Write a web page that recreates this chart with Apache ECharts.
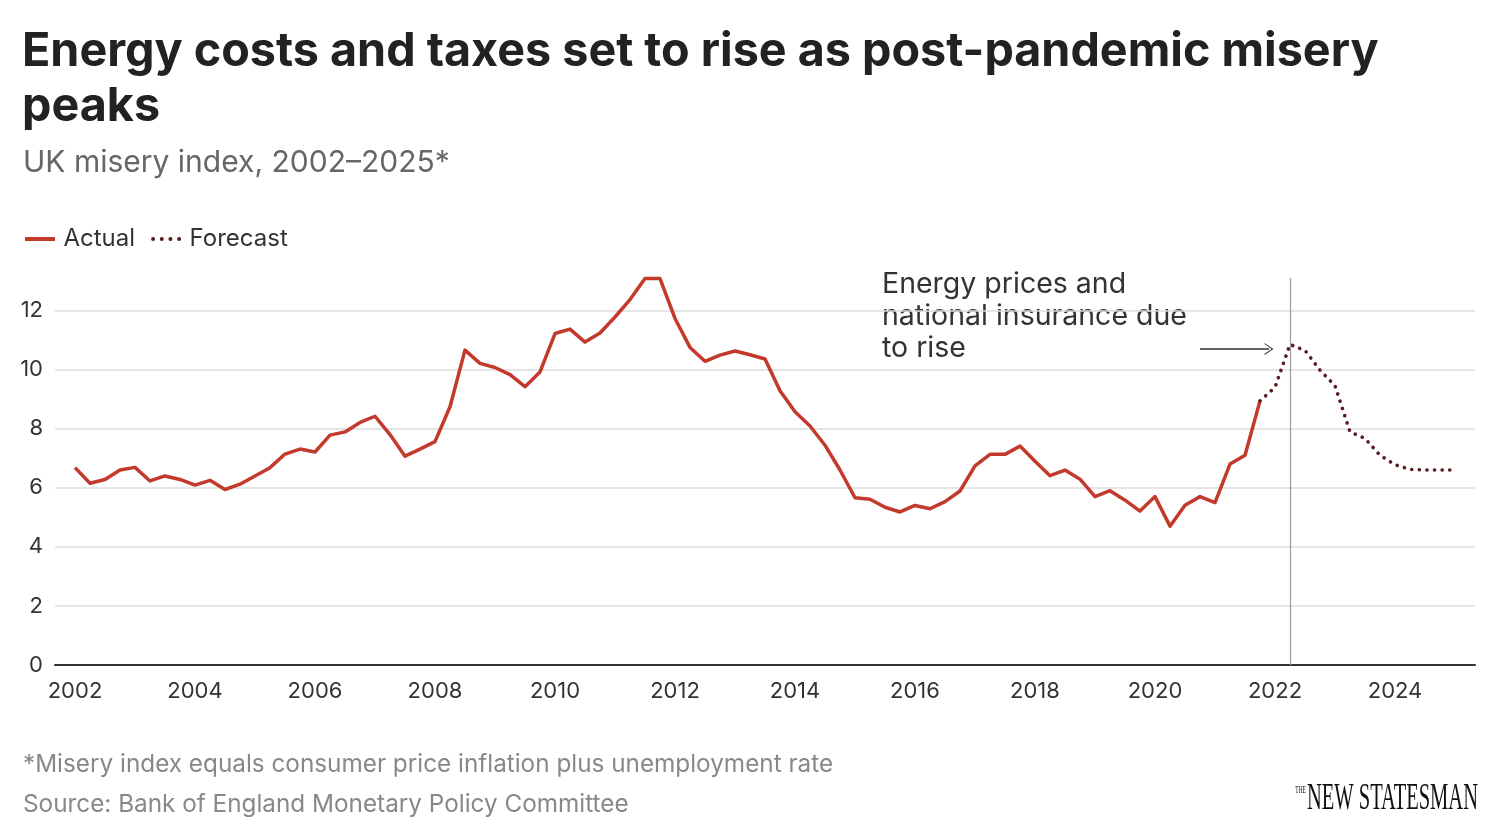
<!DOCTYPE html>
<html>
<head>
<meta charset="utf-8">
<script src="https://cdn.jsdelivr.net/npm/echarts@6/dist/echarts.min.js"></script>
<style>
  html, body { margin: 0; padding: 0; background: #fff; }
  #chart { width: 1500px; height: 836px; }
</style>
</head>
<body>
<div id="chart"></div>
<script>
// ---- Data (quarterly, starting 2002 Q1) ----
const startYear = 2002;
const actual = [
  6.68, 6.15, 6.28, 6.60, 6.69, 6.23, 6.40, 6.28,
  6.09, 6.25, 5.94, 6.12, 6.40, 6.68, 7.14, 7.31,
  7.21, 7.78, 7.89, 8.21, 8.42, 7.80, 7.07, 7.31,
  7.56, 8.74, 10.66, 10.21, 10.07, 9.83, 9.42, 9.92,
  11.22, 11.37, 10.93, 11.24, 11.78, 12.37, 13.08, 13.08,
  11.73, 10.75, 10.28, 10.49, 10.63, 10.50, 10.36, 9.28,
  8.57, 8.09, 7.44, 6.60, 5.66, 5.61, 5.34, 5.18,
  5.40, 5.29, 5.53, 5.89, 6.74, 7.13, 7.13, 7.41,
  6.90, 6.41, 6.60, 6.29, 5.70, 5.90, 5.58, 5.21,
  5.70, 4.70, 5.41, 5.70, 5.50, 6.80, 7.10, 8.94
];
// forecast starts at the last actual quarter (2021 Q4)
const forecastStartIndex = 79;
const forecast = [8.94, 9.40, 10.85, 10.65, 9.98, 9.45, 7.89, 7.67, 7.10, 6.78, 6.62, 6.60, 6.60, 6.60];
const yearTicks = [2002, 2004, 2006, 2008, 2010, 2012, 2014, 2016, 2018, 2020, 2022, 2024];
const yTicks = [0, 2, 4, 6, 8, 10, 12];
const annotationLine = 2022.25;
const annotationText = 'Energy prices and\nnational insurance due\nto rise';
const arrowFrom = [2020.75, 10.7];
const arrowTo = [2021.9, 10.7];

const RED = '#c33a2c';
const MAROON = '#5a1a1e';
const FONT = 'Inter, Lato, "Noto Sans", sans-serif';

const actualData = actual.map((v, i) => [startYear + i / 4, v]);
const forecastData = forecast.map((v, j) => [startYear + (forecastStartIndex + j) / 4, v]);

const ICON_SOLID = 'path://M0,0 L30,0 L30,4 L0,4 Z';
const ICON_DOTS = 'path://M0,2 a2,2 0 1,0 4,0 a2,2 0 1,0 -4,0 Z M8.67,2 a2,2 0 1,0 4,0 a2,2 0 1,0 -4,0 Z M17.33,2 a2,2 0 1,0 4,0 a2,2 0 1,0 -4,0 Z M26,2 a2,2 0 1,0 4,0 a2,2 0 1,0 -4,0 Z';

const chart = echarts.init(document.getElementById('chart'));
chart.setOption({
  backgroundColor: '#fff',
  animation: false,
  textStyle: { fontFamily: FONT },
  title: [
    {
      text: 'Energy costs and taxes set to rise as post-pandemic misery\npeaks',
      left: 17, top: 19,
      textStyle: { fontFamily: FONT, fontSize: 46.7, fontWeight: 'bold', color: '#222', lineHeight: 55 }
    },
    {
      text: 'UK misery index, 2002–2025*',
      left: 18, top: 139,
      textStyle: { fontFamily: FONT, fontSize: 30, fontWeight: 'normal', color: '#666', lineHeight: 38 }
    },
    {
      text: '*Misery index equals consumer price inflation plus unemployment rate',
      left: 18, top: 745,
      textStyle: { fontFamily: FONT, fontSize: 24.3, fontWeight: 'normal', color: '#888', lineHeight: 30 }
    },
    {
      text: 'Source: Bank of England Monetary Policy Committee',
      left: 18, top: 785,
      textStyle: { fontFamily: FONT, fontSize: 24.3, fontWeight: 'normal', color: '#888', lineHeight: 30 }
    }
  ],
  legend: {
    left: 20, top: 222,
    itemWidth: 31, itemHeight: 4, itemGap: 16,
    textStyle: { fontFamily: FONT, fontSize: 24, color: '#333', padding: [0, 0, 0, 3] },
    data: [
      { name: 'Actual', icon: ICON_SOLID },
      { name: 'Forecast', icon: ICON_DOTS }
    ]
  },
  grid: { left: 55, right: 25, top: 278, bottom: 171, containLabel: false },
  xAxis: {
    type: 'value',
    min: startYear - 1 / 3,
    max: 2025 + 1 / 3,
    axisLine: { show: true, lineStyle: { color: '#333', width: 2 } },
    axisTick: { show: false },
    splitLine: { show: false },
    axisLabel: {
      customValues: yearTicks,
      fontFamily: FONT, fontSize: 22, color: '#333', margin: 15,
      formatter: v => String(Math.round(v))
    }
  },
  yAxis: {
    type: 'value',
    min: 0, max: 13.1, interval: 2,
    axisLine: { show: false },
    axisTick: { show: false },
    axisLabel: {
      fontFamily: FONT, fontSize: 22, color: '#333', margin: 12,
      showMaxLabel: false,
      formatter: v => (yTicks.indexOf(v) >= 0 ? String(v) : '')
    },
    splitLine: { show: true, showMaxLine: false, lineStyle: { color: '#dcdcdc', width: 1.5 } }
  },
  series: [
    {
      name: 'Actual',
      type: 'line',
      data: actualData,
      symbol: 'none',
      showSymbol: false,
      clip: false,
      color: RED,
      lineStyle: { color: RED, width: 3.5, join: 'round' },
      z: 3,
      markLine: {
        silent: true,
        symbol: ['none', 'path://M0,10 L5,0 L10,10 L9,10 L5,2 L1,10 Z'],
        symbolSize: [12, 9],
        label: { show: false },
        lineStyle: { color: '#333', width: 1.5, type: 'solid' },
        data: [[{ coord: arrowFrom }, { coord: arrowTo }]]
      }
    },
    {
      name: 'Forecast',
      type: 'line',
      data: forecastData,
      symbol: 'none',
      showSymbol: false,
      clip: false,
      color: MAROON,
      lineStyle: { color: MAROON, width: 3.6, type: [0.1, 7.5], cap: 'round' },
      z: 3,
      markLine: {
        silent: true,
        symbol: ['none', 'none'],
        label: { show: false },
        lineStyle: { color: '#9a9a9a', width: 1.2, type: 'solid' },
        data: [{ xAxis: annotationLine }]
      }
    }
  ],
  graphic: [
    {
      type: 'text',
      left: 882, top: 268,
      style: {
        text: annotationText,
        font: '28.5px ' + FONT,
        fill: '#333',
        lineHeight: 32
      }
    },
    {
      type: 'text',
      right: 22, top: 780,
      scaleX: 0.54,
      style: {
        text: '{t|THE}{n|NEW STATESMAN}',
        rich: {
          t: { fontFamily: '"Liberation Serif", serif', fontSize: 10, fill: '#111', verticalAlign: 'top', padding: [5, 2, 0, 0] },
          n: { fontFamily: '"Liberation Serif", serif', fontSize: 38, fill: '#111' }
        }
      }
    }
  ]
});
</script>
</body>
</html>
